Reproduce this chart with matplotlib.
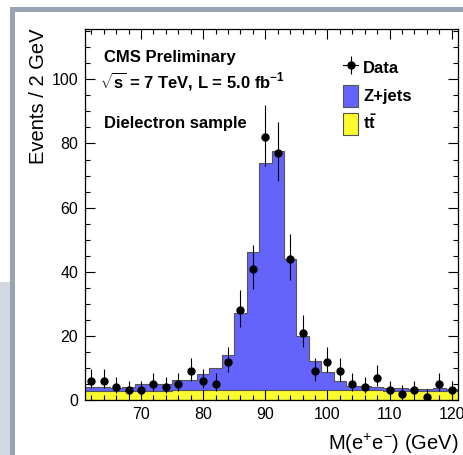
import numpy as np
import matplotlib
matplotlib.use("Agg")
import matplotlib.pyplot as plt
from matplotlib.lines import Line2D
from matplotlib.patches import Patch, Rectangle

plt.rcParams["font.family"] = ["Liberation Sans", "DejaVu Sans"]
plt.rcParams["mathtext.fontset"] = "custom"
plt.rcParams["mathtext.rm"] = "Liberation Sans"
plt.rcParams["mathtext.bf"] = "Liberation Sans:bold"
plt.rcParams["mathtext.it"] = "Liberation Sans:italic"
plt.rcParams["mathtext.default"] = "regular"

# Dielectron invariant mass, 2 GeV bins from 61 to 121 GeV
bin_edges = np.arange(61, 122, 2)
bin_centers = np.arange(62, 121, 2)

data_counts = [6, 6, 4, 3, 3, 5, 4, 5, 9, 6, 5, 12, 28, 41, 82,
               77, 44, 21, 9, 12, 9, 5, 4, 7, 3, 2, 3, 1, 5, 3]

ttbar = [2.9, 2.9, 2.8, 2.8, 2.8, 2.9, 2.9, 3.0, 3.0, 3.0, 3.0, 3.1, 3.1, 3.1, 3.1,
         3.1, 3.1, 3.1, 3.1, 3.0, 3.0, 3.0, 3.0, 3.0, 2.9, 2.9, 2.8, 2.7, 2.7, 2.7]

zjets = [1.2, 1.2, 1.0, 1.2, 2.2, 2.1, 2.1, 3.2, 3.2, 5.1, 7.0, 10.9, 23.9, 42.9, 70.9,
         74.7, 40.9, 17.0, 9.2, 5.6, 3.0, 1.3, 1.3, 1.0, 0.7, 0.7, 0.7, 0.7, 0.9, 0.7]

x_ticks = [70, 80, 90, 100, 110, 120]
y_ticks = [0, 20, 40, 60, 80, 100]

BLUE = "#6464fc"
YELLOW = "#fbfb2e"
EDGE = "#555555"

fig = plt.figure(figsize=(4.64, 4.55), dpi=100)

# page frame decoration
fig.patches.append(Rectangle((0.0, 0.0), 10 / 464, 1 - 282 / 455,
                             transform=fig.transFigure, facecolor="#d3d9e1",
                             edgecolor="none", zorder=0))
fig.patches.append(Rectangle((10 / 464, 1 - 12 / 455), 1 - 10 / 464, 5 / 455,
                             transform=fig.transFigure, facecolor="#98a3b3",
                             edgecolor="none", zorder=0))
fig.patches.append(Rectangle((10 / 464, 0.0), 5 / 464, 1 - 7 / 455,
                             transform=fig.transFigure, facecolor="#98a3b3",
                             edgecolor="none", zorder=0))

ax = fig.add_axes([85 / 464, 1 - 400 / 455, 373 / 464, 371 / 455])

# stacked expectation
ax.hist([bin_centers, bin_centers], bins=bin_edges, weights=[ttbar, zjets],
        stacked=True, histtype="stepfilled", color=[YELLOW, BLUE],
        edgecolor=EDGE, linewidth=0.8)

# data with Poisson (Gehrels) intervals
n = np.asarray(data_counts, dtype=float)
upper = n + np.sqrt(n + 0.75) + 1.0
lower = n * (1.0 - 1.0 / (9.0 * n) - 1.0 / (3.0 * np.sqrt(n))) ** 3
ax.errorbar(bin_centers, n, yerr=[n - lower, upper - n], fmt="o", color="black",
            markersize=5, elinewidth=0.8, capsize=0, zorder=5)

ax.set_xlim(61, 121)
ax.set_ylim(0, 115.7)
ax.set_xticks(x_ticks)
ax.set_yticks(y_ticks)
ax.set_xticks(np.arange(62, 121, 2), minor=True)
ax.set_yticks(np.arange(0, 116, 5), minor=True)
ax.tick_params(which="both", direction="in", top=True, right=True,
               width=0.8, labelsize=11.5)
ax.tick_params(which="major", length=7.5, pad=5)
ax.tick_params(which="minor", length=3.8)
ax.set_axisbelow(False)
for s in ax.spines.values():
    s.set_linewidth(0.9)

ax.set_xlabel(r"M(e$^{+}$e$^{-}$) (GeV)", fontsize=14.5, ha="right")
ax.xaxis.set_label_coords(1.0, -0.085)
ax.set_ylabel("Events / 2 GeV", fontsize=14.5, ha="right")
ax.yaxis.set_label_coords(-0.10, 1.0)

ax.text(0.050, 0.924, "CMS Preliminary", transform=ax.transAxes,
        fontsize=12, fontweight="bold", va="center", ha="left")
ax.text(0.040, 0.860, r"$\sqrt{\mathbf{s}}$ = 7 TeV, L = 5.0 fb$^{\mathbf{-1}}$",
        transform=ax.transAxes, fontsize=12, fontweight="bold",
        va="center", ha="left")
ax.text(0.050, 0.745, "Dielectron sample", transform=ax.transAxes,
        fontsize=12, fontweight="bold", va="center", ha="left")

data_handle = (Line2D([], [], color="black", lw=0.8),
               Line2D([], [], marker="|", markersize=13, mew=0.8,
                      color="black", ls="none"),
               Line2D([], [], marker="o", markersize=5, color="black", ls="none"))
handles = [data_handle,
           Patch(facecolor=BLUE, edgecolor=EDGE, linewidth=0.8),
           Patch(facecolor=YELLOW, edgecolor=EDGE, linewidth=0.8)]
labels = ["Data", "Z+jets", r"$\mathbf{t\bar{t}}$"]
ax.legend(handles, labels, loc="upper left", bbox_to_anchor=(0.692, 0.925),
          frameon=False, borderpad=0, borderaxespad=0, handlelength=0.9,
          handleheight=1.7, handletextpad=0.3, labelspacing=0.33,
          prop={"weight": "bold", "size": 12})

fig.savefig("out.png", dpi=100)
